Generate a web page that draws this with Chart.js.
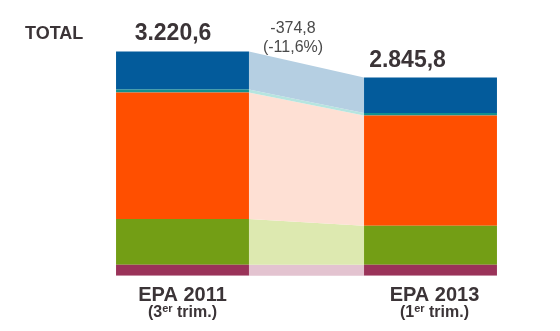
<!DOCTYPE html>
<html>
<head>
<meta charset="utf-8">
<script src="https://cdn.jsdelivr.net/npm/chart.js@4.4.0/dist/chart.umd.min.js"></script>
<style>
  html, body { margin: 0; padding: 0; background: #fff; }
  canvas { display: block; }
</style>
</head>
<body>
<canvas id="myChart" width="560" height="331"></canvas>
<script>
// periodos y trimestre de cada barra
const categorias = ['EPA 2011', 'EPA 2013'];
const trimestres = ['3', '1'];

// segmentos apilados, de abajo arriba
const serieMorada = [158.2, 158.2];
const serieVerde = [655.8, 559.7];
const serieNaranja = [1818.2, 1583.0];
const serieTurquesa = [43.0, 37.3];
const serieAzul = [545.4, 507.6];

const series = [serieMorada, serieVerde, serieNaranja, serieTurquesa, serieAzul];
const colores = ['#9a3359', '#739e15', '#ff4f00', '#12908e', '#035b9b'];
const coloresBanda = ['#e3c3d0', '#dde9b0', '#fee0d4', '#b6e5df', '#b5cfe2'];

const totales = categorias.map((c, j) => series.reduce((s, d) => s + d[j], 0));

// 3220.6 -> "3.220,6"
function fmt(v) {
  const p = Math.abs(v).toFixed(1).split('.');
  const ent = p[0].replace(/\B(?=(\d{3})+(?!\d))/g, '.');
  return (v < 0 ? '-' : '') + ent + ',' + p[1];
}

const textoOscuro = '#3b3437';
const fuente = '"Liberation Sans", Arial, sans-serif';

// trapecios claros que unen cada segmento con el de la otra barra
const bandas = {
  id: 'bandas',
  beforeDatasetsDraw(chart) {
    const ctx = chart.ctx;
    chart.data.datasets.forEach((ds, i) => {
      const [a, b] = chart.getDatasetMeta(i).data;
      const x0 = a.x + a.width / 2, x1 = b.x - b.width / 2;
      ctx.save();
      ctx.fillStyle = coloresBanda[i];
      ctx.beginPath();
      ctx.moveTo(x0, a.y);
      ctx.lineTo(x1, b.y);
      ctx.lineTo(x1, b.base);
      ctx.lineTo(x0, a.base);
      ctx.closePath();
      ctx.fill();
      ctx.restore();
    });
  }
};

const rotulos = {
  id: 'rotulos',
  afterDraw(chart) {
    const ctx = chart.ctx;
    const y = chart.scales.y;
    const barras = chart.getDatasetMeta(0).data;
    ctx.save();
    ctx.fillStyle = textoOscuro;
    ctx.textBaseline = 'alphabetic';

    ctx.font = 'bold 18px ' + fuente;
    ctx.textAlign = 'left';
    ctx.fillText('TOTAL', 25, 39);

    // totales encima de cada barra
    const despl = [-9.5, -23];
    ctx.font = 'bold 23px ' + fuente;
    ctx.textAlign = 'center';
    totales.forEach((t, j) => {
      ctx.fillText(fmt(t), barras[j].x + despl[j], y.getPixelForValue(t) - 11);
    });

    // variación entre periodos
    const dif = totales[1] - totales[0];
    const pct = (dif / totales[0] * 100).toFixed(1).replace('.', ',');
    const xm = (barras[0].x + barras[0].width / 2 + barras[1].x - barras[1].width / 2) / 2 - 13.5;
    ctx.fillStyle = '#4a4a4a';
    ctx.font = '16px ' + fuente;
    ctx.fillText(fmt(dif), xm, 33);
    ctx.fillText('(' + pct + '%)', xm, 52);

    // etiquetas de categoría con el trimestre debajo
    ctx.fillStyle = textoOscuro;
    const dx = [0, 4];
    categorias.forEach((c, j) => {
      const cx = barras[j].x + dx[j];
      ctx.textAlign = 'center';
      ctx.font = 'bold 20px ' + fuente;
      ctx.fillText(c, cx, 301);

      const a = '(' + trimestres[j], sup = 'er', b = ' trim.)';
      ctx.font = 'bold 16px ' + fuente;
      const wa = ctx.measureText(a).width, wb = ctx.measureText(b).width;
      ctx.font = 'bold 11px ' + fuente;
      const ws = ctx.measureText(sup).width;
      let x = cx - (wa + ws + wb) / 2;
      ctx.textAlign = 'left';
      ctx.font = 'bold 16px ' + fuente;
      ctx.fillText(a, x, 317);
      x += wa;
      ctx.font = 'bold 11px ' + fuente;
      ctx.fillText(sup, x, 312);
      x += ws;
      ctx.font = 'bold 16px ' + fuente;
      ctx.fillText(b, x, 317);
    });
    ctx.restore();
  }
};

const ctx = document.getElementById('myChart').getContext('2d');
const myChart = new Chart(ctx, {
  type: 'bar',
  data: {
    labels: categorias,
    datasets: series.map((d, i) => ({
      label: 'Serie ' + (i + 1),
      data: d,
      backgroundColor: colores[i],
      borderWidth: 0,
      categoryPercentage: 1,
      barPercentage: 0.536
    }))
  },
  options: {
    responsive: false,
    animation: false,
    layout: { padding: { left: 58.5, right: 5.5, top: 32, bottom: 55.3 } },
    scales: {
      x: { stacked: true, display: false },
      y: { stacked: true, display: false, min: 0, max: 3500 }
    },
    plugins: {
      legend: { display: false },
      tooltip: { enabled: false }
    }
  },
  plugins: [bandas, rotulos]
});
</script>
</body>
</html>
